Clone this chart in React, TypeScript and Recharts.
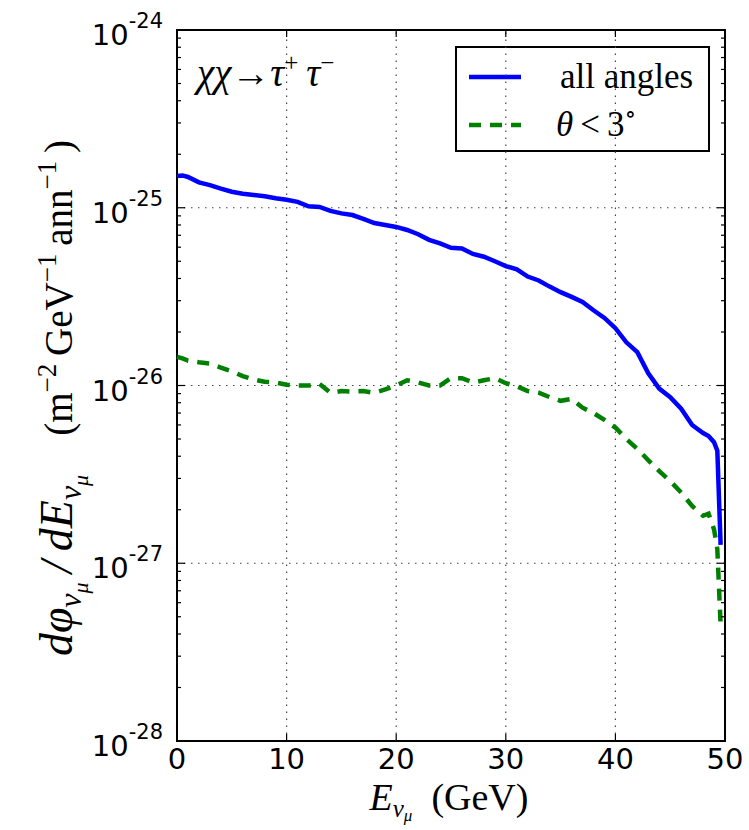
import React from 'react';
import {
  LineChart,
  Line,
  XAxis,
  YAxis,
  ReferenceLine,
  ReferenceArea,
  Customized,
} from 'recharts';

// neutrino energy (GeV)
const energies = [
  0, 0.5, 1, 2, 3, 4, 5, 6, 7, 8, 9, 10, 11, 12, 13, 14, 15, 16, 17, 18, 19,
  20, 21, 22, 23, 24, 25, 26, 27, 28, 29, 30, 31, 32, 33, 34, 35, 36, 37, 38,
  39, 40, 41, 42, 43, 44, 45, 46, 47, 48, 48.5, 49, 49.3, 49.6,
];

// all angles
const fluxAll = [
  1.51e-25, 1.52e-25, 1.49e-25, 1.39e-25, 1.34e-25, 1.28e-25, 1.23e-25,
  1.2e-25, 1.18e-25, 1.16e-25, 1.13e-25, 1.11e-25, 1.08e-25, 1.02e-25,
  1.01e-25, 9.6e-26, 9.3e-26, 9.1e-26, 8.65e-26, 8.2e-26, 8.0e-26, 7.8e-26,
  7.5e-26, 7.1e-26, 6.6e-26, 6.3e-26, 5.95e-26, 5.9e-26, 5.5e-26, 5.3e-26,
  5.0e-26, 4.7e-26, 4.5e-26, 4.1e-26, 3.9e-26, 3.6e-26, 3.35e-26, 3.15e-26,
  2.95e-26, 2.65e-26, 2.4e-26, 2.1e-26, 1.75e-26, 1.54e-26, 1.17e-26,
  9.6e-27, 8.6e-27, 7.4e-27, 6.0e-27, 5.4e-27, 5.2e-27, 4.8e-27, 4.3e-27,
  1.27e-27,
];

// theta < 3 deg
const fluxCone = [
  1.45e-26, 1.42e-26, 1.38e-26, 1.35e-26, 1.33e-26, 1.26e-26, 1.2e-26,
  1.13e-26, 1.08e-26, 1.05e-26, 1.04e-26, 1.01e-26, 1.0e-26, 1.0e-26,
  1.02e-26, 9.1e-27, 9.3e-27, 9.25e-27, 9.3e-27, 9.1e-27, 9.5e-27, 1.0e-26,
  1.07e-26, 1.04e-26, 1.0e-26, 1.0e-26, 1.1e-26, 1.1e-26, 1.04e-26, 1.07e-26,
  1.1e-26, 1.03e-26, 9.9e-27, 9.3e-27, 9.1e-27, 8.6e-27, 8.2e-27, 8.4e-27,
  7.5e-27, 7.0e-27, 6.4e-27, 5.8e-27, 5.0e-27, 4.4e-27, 3.8e-27, 3.3e-27,
  2.9e-27, 2.5e-27, 2.1e-27, 1.85e-27, 1.9e-27, 1.55e-27, 1.2e-27, 4.5e-28,
];

const xTicks = [0, 10, 20, 30, 40, 50];
const xGrid = [10, 20, 30, 40];
const yDecades = [-28, -27, -26, -25, -24];
const minorMults = [2, 3, 4, 5, 6, 7, 8, 9];

const data = energies.map((e, i) => ({ e, all: fluxAll[i], cone: fluxCone[i] }));

const yTicks: number[] = [];
yDecades.forEach((d) => {
  yTicks.push(Math.pow(10, d));
  if (d < -24) minorMults.forEach((m) => yTicks.push(m * Math.pow(10, d)));
});
const yGrid = yDecades.slice(1, -1).map((d) => Math.pow(10, d));

const W = 749;
const H = 830;
const PL = 177;
const PR = 725;
const PT = 30;
const PB = 741;

const SERIF = '"Liberation Serif", "DejaVu Serif", serif';
const SANS = '"DejaVu Sans", sans-serif';

const YTick = (props: any) => {
  const { y, payload } = props;
  const v = payload.value;
  const lg = Math.log10(v);
  const major = Math.abs(lg - Math.round(lg)) < 1e-6;
  const len = major ? 8 : 4;
  return (
    <g>
      <line x1={PL} x2={PL + len} y1={y} y2={y} stroke="#000" strokeWidth={1.2} />
      <line x1={PR} x2={PR - len} y1={y} y2={y} stroke="#000" strokeWidth={1.2} />
      {major && (
        <text x={PL - 14} y={y + 15} textAnchor="end" fontFamily={SANS} fontSize={29} fill="#000">
          <tspan>10</tspan>
          <tspan dy={-17} fontSize={21}>{`-${-Math.round(lg)}`}</tspan>
        </text>
      )}
    </g>
  );
};

const XTick = (props: any) => {
  const { x, payload } = props;
  return (
    <g>
      <line x1={x} x2={x} y1={PB} y2={PB - 7} stroke="#000" strokeWidth={1.2} />
      <line x1={x} x2={x} y1={PT} y2={PT + 7} stroke="#000" strokeWidth={1.2} />
      <text x={x} y={PB + 28} textAnchor="middle" fontFamily={SANS} fontSize={29} fill="#000">
        {payload.value}
      </text>
    </g>
  );
};

const XLabel = () => (
  <text x={449} y={810} textAnchor="middle" fontFamily={SERIF} fontSize={38} fill="#000">
    <tspan fontStyle="italic">E</tspan>
    <tspan fontStyle="italic" fontSize={25} dy={7}>ν</tspan>
    <tspan fontStyle="italic" fontSize={17} dy={4}>μ</tspan>
    <tspan dy={-11}>{'\u00a0\u00a0(GeV)'}</tspan>
  </text>
);

const YLabel = () => (
  <text
    transform="rotate(-90)"
    x={-398}
    y={72}
    textAnchor="middle"
    fontFamily={SERIF}
    fontSize={46}
    fill="#000"
  >
    <tspan fontStyle="italic">dφ</tspan>
    <tspan fontStyle="italic" fontSize={32} dy={9}>ν</tspan>
    <tspan fontStyle="italic" fontSize={22} dy={7}>μ</tspan>
    <tspan fontStyle="italic" dy={-16}>{'\u2009/\u2009dE'}</tspan>
    <tspan fontStyle="italic" fontSize={32} dy={9}>ν</tspan>
    <tspan fontStyle="italic" fontSize={22} dy={7}>μ</tspan>
    <tspan fontSize={39} dy={-16}>{'\u00a0\u00a0\u00a0\u00a0(m'}</tspan>
    <tspan fontSize={27} dy={-16}>−2</tspan>
    <tspan fontSize={39} dy={16}>{'\u2009GeV'}</tspan>
    <tspan fontSize={27} dy={-16}>−1</tspan>
    <tspan fontSize={39} dy={16}>{'\u2009ann'}</tspan>
    <tspan fontSize={27} dy={-16}>−1</tspan>
    <tspan fontSize={39} dy={16}>{'\u2009)'}</tspan>
  </text>
);

const Annotation = () => (
  <text x={197} y={86} fontFamily={SERIF} fontSize={39} fill="#000">
    <tspan fontStyle="italic">χχ</tspan>
    <tspan>→</tspan>
    <tspan fontStyle="italic">τ</tspan>
    <tspan fontSize={25} dy={-15}>+</tspan>
    <tspan dy={15} fontStyle="italic">{'\u2009τ'}</tspan>
    <tspan fontSize={25} dy={-15}>−</tspan>
  </text>
);

const LegendBox = () => (
  <g>
    <rect x={456} y={47} width={253} height={104} fill="#fff" stroke="#000" strokeWidth={2} />
    <line x1={469} x2={521} y1={77} y2={77} stroke="#0000ff" strokeWidth={4.5} />
    <text x={560} y={88} fontFamily={SERIF} fontSize={35} fill="#000">
      all angles
    </text>
    <line
      x1={469}
      x2={521}
      y1={125}
      y2={125}
      stroke="#008000"
      strokeWidth={4.5}
      strokeDasharray="12 9"
    />
    <text x={556} y={136} fontFamily={SERIF} fontSize={35} fill="#000">
      <tspan fontStyle="italic">θ</tspan>
      <tspan>{'\u2009<\u20093'}</tspan>
      <tspan fontSize={24} dy={-14}>∘</tspan>
    </text>
  </g>
);

export default function App() {
  return (
    <div style={{ position: 'absolute', left: 0, top: 0, width: W, height: H, background: '#fff' }}>
      <LineChart
        width={W}
        height={H}
        data={data}
        margin={{ top: PT, right: W - PR, bottom: 0, left: 0 }}
      >
        <XAxis
          dataKey="e"
          type="number"
          domain={[0, 50]}
          ticks={xTicks}
          interval={0}
          height={H - PB}
          tick={<XTick />}
          tickLine={false}
          axisLine={false}
          label={{ content: () => <XLabel /> }}
        />
        <YAxis
          type="number"
          scale="log"
          domain={[1e-28, 1e-24]}
          allowDataOverflow
          ticks={yTicks}
          interval={0}
          width={PL}
          tick={<YTick />}
          tickLine={false}
          axisLine={false}
          label={{ content: () => <YLabel /> }}
        />
        {xGrid.map((v) => (
          <ReferenceLine key={`xg-${v}`} x={v} stroke="#444" strokeWidth={1.2} strokeDasharray="1.5 5.5" />
        ))}
        {yGrid.map((v) => (
          <ReferenceLine key={`yg-${v}`} y={v} stroke="#444" strokeWidth={1.2} strokeDasharray="1.5 5.5" />
        ))}
        <Line
          dataKey="all"
          stroke="#0000ff"
          strokeWidth={4.5}
          dot={false}
          type="linear"
          isAnimationActive={false}
        />
        <Line
          dataKey="cone"
          stroke="#008000"
          strokeWidth={4.5}
          strokeDasharray="12 9"
          dot={false}
          type="linear"
          isAnimationActive={false}
        />
        <ReferenceArea
          x1={0}
          x2={50}
          y1={1e-28}
          y2={1e-24}
          fill="none"
          fillOpacity={0}
          stroke="#000"
          strokeWidth={2}
        />
        <Customized component={<Annotation />} />
        <Customized component={<LegendBox />} />
      </LineChart>
    </div>
  );
}
